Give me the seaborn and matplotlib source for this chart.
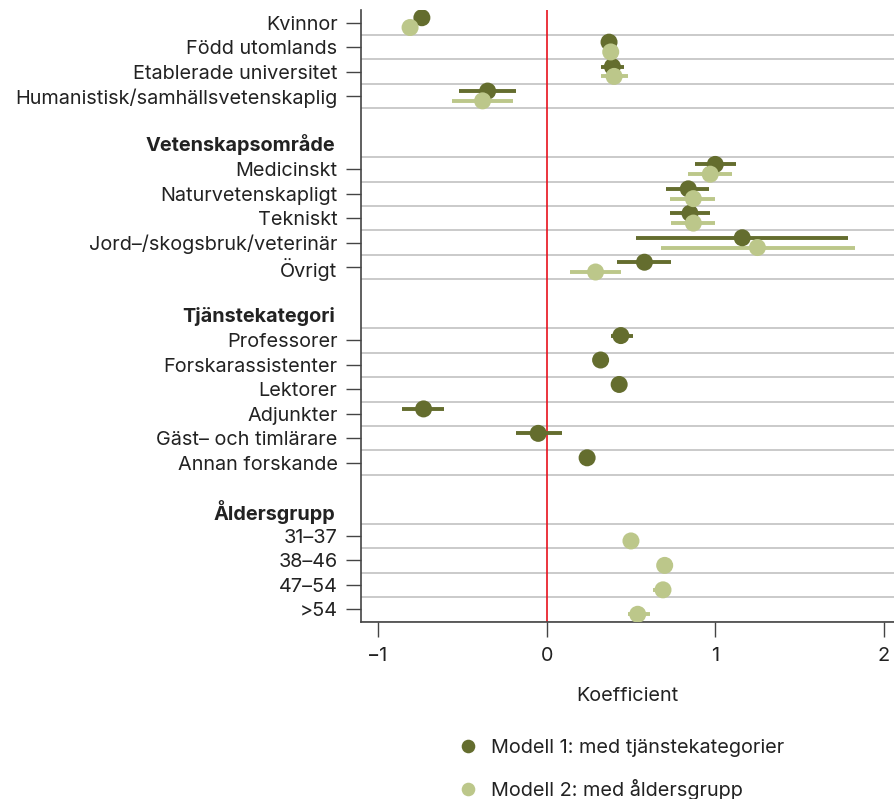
import numpy as np
import pandas as pd
import matplotlib
matplotlib.use("Agg")
import matplotlib.pyplot as plt
import seaborn as sns

# Row labels (empty string = spacer row); headers are drawn in bold without a tick
rows = ["Kvinnor", "Född utomlands", "Etablerade universitet",
        "Humanistisk/samhällsvetenskaplig", "",
        "Vetenskapsområde", "Medicinskt", "Naturvetenskapligt", "Tekniskt",
        "Jord–/skogsbruk/veterinär", "Övrigt", "",
        "Tjänstekategori", "Professorer", "Forskarassistenter", "Lektorer",
        "Adjunkter", "Gäst– och timlärare", "Annan forskande", "",
        "Åldersgrupp", "31–37", "38–46", "47–54", ">54"]
headers = ["Vetenskapsområde", "Tjänstekategori", "Åldersgrupp"]

nan = np.nan
# Model 1: med tjänstekategorier (coefficient, lower, upper)
m1_coef = [-0.74, 0.37, 0.39, -0.35, nan,
           nan, 1.00, 0.84, 0.85, 1.16, 0.58, nan,
           nan, 0.44, 0.32, 0.43, -0.73, -0.05, 0.24, nan,
           nan, nan, nan, nan, nan]
m1_lo = [-0.77, 0.35, 0.32, -0.52, nan,
         nan, 0.88, 0.71, 0.73, 0.53, 0.42, nan,
         nan, 0.38, 0.28, 0.40, -0.86, -0.18, 0.22, nan,
         nan, nan, nan, nan, nan]
m1_hi = [-0.71, 0.39, 0.46, -0.18, nan,
         nan, 1.12, 0.96, 0.97, 1.79, 0.74, nan,
         nan, 0.51, 0.36, 0.46, -0.61, 0.09, 0.26, nan,
         nan, nan, nan, nan, nan]

# Model 2: med åldersgrupp (coefficient, lower, upper)
m2_coef = [-0.81, 0.38, 0.40, -0.38, nan,
           nan, 0.97, 0.87, 0.87, 1.25, 0.29, nan,
           nan, nan, nan, nan, nan, nan, nan, nan,
           nan, 0.50, 0.70, 0.69, 0.54]
m2_lo = [-0.84, 0.36, 0.32, -0.56, nan,
         nan, 0.84, 0.73, 0.74, 0.68, 0.14, nan,
         nan, nan, nan, nan, nan, nan, nan, nan,
         nan, 0.48, 0.66, 0.63, 0.48]
m2_hi = [-0.78, 0.40, 0.48, -0.20, nan,
         nan, 1.10, 1.00, 1.00, 1.83, 0.44, nan,
         nan, nan, nan, nan, nan, nan, nan, nan,
         nan, 0.52, 0.75, 0.74, 0.61]

models = ["Modell 1: med tjänstekategorier", "Modell 2: med åldersgrupp"]
colors = ["#646d2e", "#bcc78a"]
offsets = [-0.2, 0.2]

xticks = [-1, 0, 1, 2]
xtick_labels = ["−1", "0", "1", "2"]

FS = 14.3
TXT = "#222222"

sns.set_theme(style="white")
plt.rcParams["font.family"] = ["Inter", "DejaVu Sans"]

frames = []
for name, off, coef, lo, hi in zip(models, offsets,
                                   [m1_coef, m2_coef], [m1_lo, m2_lo], [m1_hi, m2_hi]):
    frames.append(pd.DataFrame({
        "row": np.arange(len(rows)) + off,
        "coef": coef, "lo": lo, "hi": hi, "Modell": name,
    }))
df = pd.concat(frames, ignore_index=True).dropna(subset=["coef"])

fig = plt.figure(figsize=(8.94, 7.99), dpi=100)
ax_w = 0.596
ax = fig.add_axes([0.404, 0.222, ax_w, 0.765])

# Row separators below every non-empty row
for i, lab in enumerate(rows):
    if lab:
        ax.axhline(i + 0.5, color="#c6c6c6", lw=1.3, zorder=0)

ax.axvline(0, color="#e8121c", lw=1.2, zorder=1)

# Confidence intervals
for name, col in zip(models, colors):
    sub = df[df["Modell"] == name]
    ax.hlines(sub["row"], sub["lo"], sub["hi"], color=col, lw=2.8, zorder=2)

sns.scatterplot(data=df, x="coef", y="row", hue="Modell", hue_order=models,
                palette=colors, s=150, edgecolor="none", linewidth=0,
                ax=ax, zorder=3)

ax.set_xlim(-1.1, 2.06)
ax.set_ylim(len(rows) - 0.5, -0.5)

item_pos = [i for i, lab in enumerate(rows) if lab and lab not in headers]
ax.set_yticks(item_pos)
ax.set_yticklabels([rows[i] for i in item_pos], fontsize=FS, color=TXT)
for i, lab in enumerate(rows):
    if lab in headers:
        ax.text(-26 / (ax_w * 894), i, lab, transform=ax.get_yaxis_transform(),
                ha="right", va="center", fontsize=FS, fontweight="bold",
                color=TXT)

ax.set_xticks(xticks)
ax.set_xticklabels(xtick_labels, fontsize=FS, color=TXT)
ax.tick_params(axis="y", length=11, width=1.0, color="#444444", pad=6, left=True)
ax.tick_params(axis="x", length=11, width=1.0, color="#444444", pad=7, bottom=True)
ax.set_xlabel("Koefficient", fontsize=FS, color=TXT, labelpad=16)
ax.set_ylabel("")

for side in ["top", "right"]:
    ax.spines[side].set_visible(False)
for side in ["left", "bottom"]:
    ax.spines[side].set_color("#444444")
    ax.spines[side].set_linewidth(1.2)

sns.move_legend(ax, "upper left", bbox_to_anchor=(0.492, 0.085),
                bbox_transform=fig.transFigure, frameon=False, title=None,
                fontsize=FS, labelspacing=1.1, handletextpad=0.2,
                markerscale=0.8, borderaxespad=0)
for t in ax.get_legend().get_texts():
    t.set_color(TXT)

fig.savefig("out.png", dpi=100)
